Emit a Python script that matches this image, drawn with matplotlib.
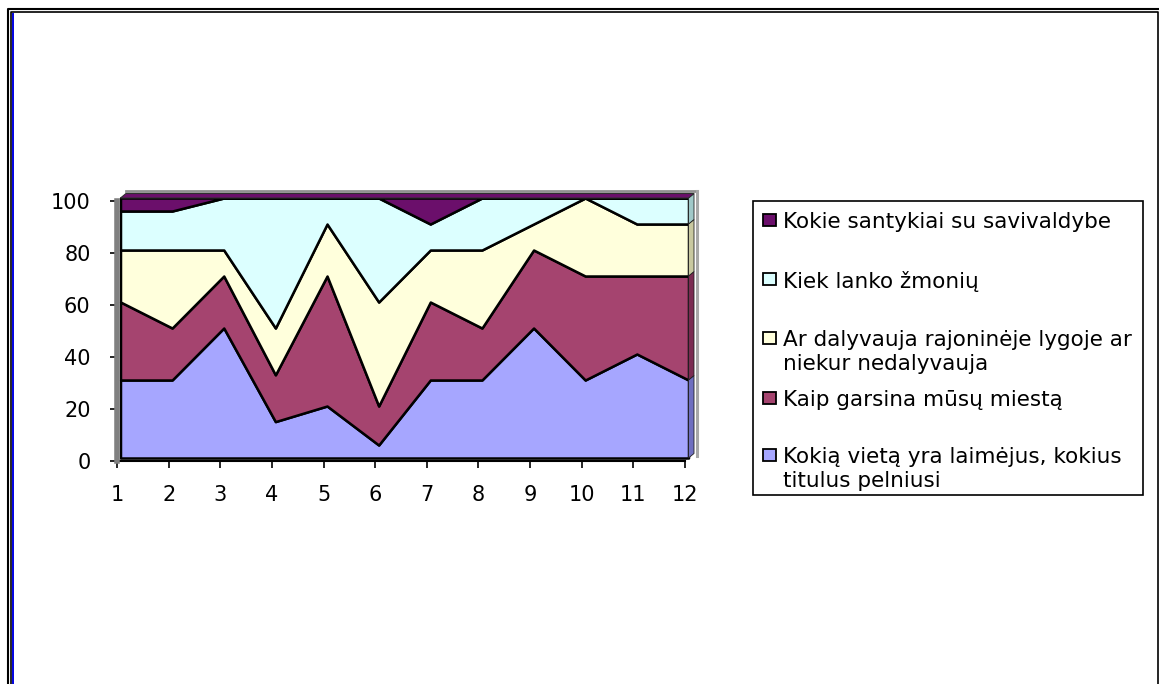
import matplotlib.pyplot as plt
import matplotlib.transforms as mtransforms
from matplotlib.patches import Rectangle, Polygon
from matplotlib.lines import Line2D
import numpy as np

# klausimų eilės numeriai
nr = np.arange(1, 13)

# atsakymų dalys, %
vieta = [30, 30, 50, 14, 20, 5, 30, 30, 50, 30, 40, 30]
garsina = [30, 20, 20, 18, 50, 15, 30, 20, 30, 40, 30, 40]
lyga = [20, 30, 10, 18, 20, 40, 20, 30, 10, 30, 20, 20]
lanko = [15, 15, 20, 50, 10, 40, 10, 20, 10, 0, 10, 10]
santykiai = [5, 5, 0, 0, 0, 0, 10, 0, 0, 0, 0, 0]

serijos = [vieta, garsina, lyga, lanko, santykiai]
pavadinimai = ["Kokią vietą yra laimėjus, kokius\ntitulus pelniusi",
               "Kaip garsina mūsų miestą",
               "Ar dalyvauja rajoninėje lygoje ar\nniekur nedalyvauja",
               "Kiek lanko žmonių",
               "Kokie santykiai su savivaldybe"]
spalvos = ['#A6A6FF', '#A5446F', '#FFFFDC', '#DCFFFF', '#6B0F6B']
sonai = ['#6F6FC0', '#7A2C52', '#C8C8A0', '#A0C8C8', '#4A074A']

W, H = 1159, 684
plt.rcParams['font.family'] = ['DejaVu Sans']
fig = plt.figure(figsize=(W / 100, H / 100), dpi=100)

def fx(px):
    return px / W

def fy(py):
    return 1 - py / H

ax = fig.add_axes([fx(117), fy(461), 568 / W, 260 / H])
ax.set_xlim(1, 12)
ax.set_ylim(0, 100)

# 3D poslinkis
poslinkis = mtransforms.ScaledTranslation(3.5 / 100, 3 / 100, fig.dpi_scale_trans)
tr = ax.transData + poslinkis
dx, dy = 5.5 * 11 / 568, 4.5 * 100 / 260

# grindys
grindys = Polygon([(1, 0), (12, 0), (12 + dx, dy), (1 + dx, dy)], closed=True,
                  facecolor='#C0C0C0', edgecolor='none', transform=ax.transData,
                  clip_on=False, zorder=0)
ax.add_patch(grindys)

polys = ax.stackplot(nr, *serijos, colors=spalvos, edgecolor='black', linewidth=1.8)
for p in polys:
    p.set_transform(tr)
    p.set_clip_on(False)

# dešinioji šoninė sienelė
apacia = 0
for s, c in zip(serijos, sonai):
    virsus = apacia + s[-1]
    if s[-1] > 0:
        ax.add_patch(Polygon([(12, apacia), (12, virsus), (12 + dx, virsus + dy),
                              (12 + dx, apacia + dy)], closed=True, facecolor=c,
                             edgecolor='#202020', linewidth=0.6, transform=tr,
                             clip_on=False, zorder=3))
    apacia = virsus

# viršutinis paviršius
ax.add_patch(Polygon([(1, 100), (12, 100), (12 + dx, 100 + dy), (1 + dx, 100 + dy)],
                     closed=True, facecolor=spalvos[4], edgecolor='#303030',
                     linewidth=0.8, transform=tr, clip_on=False, zorder=3))
ax.plot([1 + dx, 12 + 1.5 * dx], [100 + dy + 0.8, 100 + dy + 0.8], color='#909090',
        linewidth=2, transform=tr, clip_on=False, zorder=2)
ax.plot([12 + 1.5 * dx, 12 + 1.5 * dx], [dy - 1, 100 + dy + 0.8], color='#A8A8A8',
        linewidth=2.2, transform=tr, clip_on=False, zorder=2)

for sp in ['top', 'right']:
    ax.spines[sp].set_visible(False)
ax.spines['left'].set_color('#808080')
ax.spines['left'].set_linewidth(4)
ax.spines['bottom'].set_color('black')
ax.spines['bottom'].set_linewidth(1.5)
ax.spines['left'].set_zorder(4)

ax.set_xticks(nr)
ax.set_yticks(np.arange(0, 101, 20))
ax.tick_params(axis='both', direction='out', length=5, width=1.2, colors='black',
               labelsize=15)
ax.tick_params(axis='x', pad=12)
ax.tick_params(axis='y', pad=14)

# legenda
fig.add_artist(Rectangle((fx(753), fy(495)), (1143 - 753) / W, (495 - 201) / H,
                         facecolor='white', edgecolor='black', linewidth=1.2,
                         transform=fig.transFigure))
eil_y = [455, 398, 338, 279, 220]
for lab, c, yy in zip(pavadinimai, spalvos, eil_y):
    fig.add_artist(Rectangle((fx(763), fy(yy + 6)), 13 / W, 12 / H, facecolor=c,
                             edgecolor='black', linewidth=1.3,
                             transform=fig.transFigure))
    for i, eil in enumerate(lab.split('\n')):
        fig.text(fx(783), fy(yy + 24 * i), eil, fontsize=15.5, va='center_baseline',
                 ha='left', transform=fig.transFigure)

# rėmelis
def linija(xs, ys, c='black', lw=1.4):
    fig.add_artist(Line2D([fx(v) for v in xs], [fy(v) for v in ys], color=c,
                          linewidth=lw, transform=fig.transFigure))

linija([7.5, 7.5, W], [H, 9, 9], lw=1.5)
linija([10.5, 10.5, 1157.5, 1157.5], [H, 12, 12, H], lw=1.2)
linija([12.8, 12.8], [H, 13.5], c='#0000E0', lw=1.4)

fig.savefig('out.png', dpi=100)
